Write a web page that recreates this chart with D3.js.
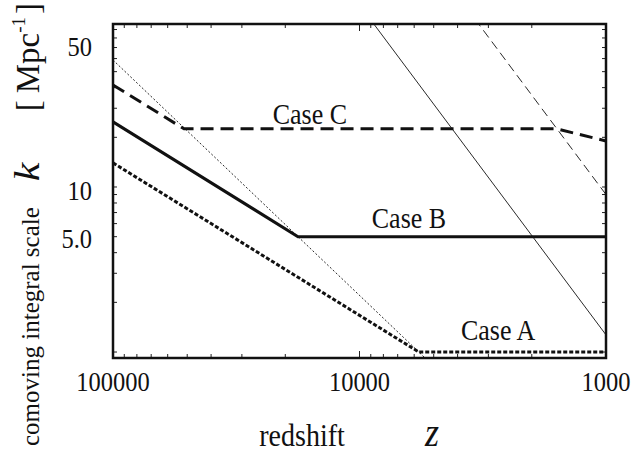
<!DOCTYPE html>
<html><head><meta charset="utf-8">
<script src="https://cdn.jsdelivr.net/npm/d3@7"></script>
<style>
html,body{margin:0;padding:0;background:#fff;}
svg{display:block;}
text{font-family:"Liberation Serif","Times New Roman",serif;fill:#111;}
</style></head>
<body>
<script>
// ---- data ----
const caseA_z = [100000, 5745, 1000];
const caseA_k = [14.0, 1.0, 1.0];
const caseB_z = [100000, 17760, 1000];
const caseB_k = [24.8, 5.0, 5.0];
const caseC_z = [100000, 51500, 1581, 1000];
const caseC_k = [41.5, 22.5, 22.5, 19.0];
const thinDotted_z = [100000, 5000];
const thinDotted_k = [58.8, 0.82];
const thinSolid_z = [1000, 10000];
const thinSolid_k = [1.27, 127];
const thinDashed_z = [1000, 4000];
const thinDashed_k = [9.0, 144];
const xTickLabels = [100000, 10000, 1000];
const yTickLabels = ["50", "10", "5.0"];
const yTickLabelAt = [70, 9.3, 4.8];
const caseLabels = ["Case A", "Case B", "Case C"];
const caseLabelZ = [2740, 6300, 15900];
const caseLabelK = [1.18, 5.65, 24.1];

const W = 633, H = 456;
const m = {l:113, r:W-606, t:24, b:H-358};
const STRETCH = 1.1; // reference glyphs look slightly stretched vertically
const svg = d3.select("body").append("svg").attr("width", W).attr("height", H);

const x = d3.scaleLog().domain([100000, 1000]).range([m.l, W - m.r]);
const y = d3.scaleLog().domain([0.92, 97.2]).range([H - m.b, m.t]);

svg.append("clipPath").attr("id","clip").append("rect")
  .attr("x", m.l).attr("y", m.t).attr("width", W-m.l-m.r).attr("height", H-m.t-m.b);

// ticks (inward, mirrored)
const xMinor = [], yMinor = [];
for (let d = 1000; d < 100000; d *= 10) for (let i = 2; i <= 9; i++) xMinor.push(d*i);
for (let d = 0.1; d < 100; d *= 10) for (let i = 1; i <= 9; i++) { const v = +(d*i).toPrecision(3); if (v >= 0.92 && v <= 97.2) yMinor.push(v); }

const tk = svg.append("g").attr("stroke", "#222").attr("stroke-width", 1);
const y0 = H - m.b, y1 = m.t, x0 = m.l, x1 = W - m.r;
xMinor.forEach(v => {
  tk.append("line").attr("x1", x(v)).attr("x2", x(v)).attr("y1", y0).attr("y2", y0-4);
  tk.append("line").attr("x1", x(v)).attr("x2", x(v)).attr("y1", y1).attr("y2", y1+4);
});
xTickLabels.forEach(v => {
  tk.append("line").attr("x1", x(v)).attr("x2", x(v)).attr("y1", y0).attr("y2", y0-7);
  tk.append("line").attr("x1", x(v)).attr("x2", x(v)).attr("y1", y1).attr("y2", y1+7);
});
yMinor.forEach(v => {
  tk.append("line").attr("y1", y(v)).attr("y2", y(v)).attr("x1", x0).attr("x2", x0+4);
  tk.append("line").attr("y1", y(v)).attr("y2", y(v)).attr("x1", x1).attr("x2", x1-4);
});

// curves
const line = d3.line().x(d => x(d[0])).y(d => y(d[1]));
const zip = (a, b) => a.map((v, i) => [v, b[i]]);
const g = svg.append("g").attr("clip-path", "url(#clip)").attr("fill", "none").attr("stroke", "#111");
g.append("path").attr("d", line(zip(thinDotted_z, thinDotted_k))).attr("stroke-width", 0.9).attr("stroke-dasharray", "2,2");
g.append("path").attr("d", line(zip(thinSolid_z, thinSolid_k))).attr("stroke-width", 0.9);
g.append("path").attr("d", line(zip(thinDashed_z, thinDashed_k))).attr("stroke-width", 0.9).attr("stroke-dasharray", "9,5");
g.append("path").attr("d", line(zip(caseA_z, caseA_k))).attr("stroke-width", 3).attr("stroke-dasharray", "4,2");
g.append("path").attr("d", line(zip(caseB_z, caseB_k))).attr("stroke-width", 3);
g.append("path").attr("d", line(zip(caseC_z, caseC_k))).attr("stroke-width", 3).attr("stroke-dasharray", "13,7");

// frame
svg.append("rect").attr("x", x0).attr("y", y1).attr("width", x1-x0).attr("height", y0-y1)
  .attr("fill", "none").attr("stroke", "#111").attr("stroke-width", 2.5);

function stretchedText(px, py, anchor, size) {
  return svg.append("g").attr("transform", `translate(${px},${py}) scale(1,${STRETCH})`)
    .append("text").attr("text-anchor", anchor).attr("font-size", size);
}

// tick labels
xTickLabels.forEach(v => {
  stretchedText(x(v), 391, "middle", 24.5).text(d3.format("d")(v));
});
yTickLabels.forEach((t, i) => {
  stretchedText(92, y(yTickLabelAt[i]) + 8, "end", 24.5).text(t);
});

// case labels
caseLabels.forEach((t, i) => {
  stretchedText(x(caseLabelZ[i]), y(caseLabelK[i]), "middle", 26).text(t);
});

// axis titles
stretchedText(302, 446, "middle", 28).text("redshift");
stretchedText(432, 446, "middle", 36)
  .attr("font-family", "DejaVu Serif").attr("font-style", "italic").text("z");

svg.append("text").attr("transform", "translate(39,446) rotate(-90)")
  .attr("text-anchor", "start").attr("font-size", 25).text("comoving integral scale");
svg.append("text").attr("transform", `translate(39,172) rotate(-90) scale(1.2,1)`)
  .attr("text-anchor", "middle").attr("font-size", 35)
  .attr("font-family", "DejaVu Serif").attr("font-style", "italic").text("k");
const yu = svg.append("text").attr("transform", "translate(39,3) rotate(-90)")
  .attr("text-anchor", "end").attr("font-size", 33);
yu.append("tspan").text("[");
yu.append("tspan").attr("dx", 7).text("Mpc");
yu.append("tspan").attr("font-size", 19).attr("dy", -14).text("-1");
yu.append("tspan").attr("dx", 3).attr("dy", 14).text("]");
</script>
</body></html>
